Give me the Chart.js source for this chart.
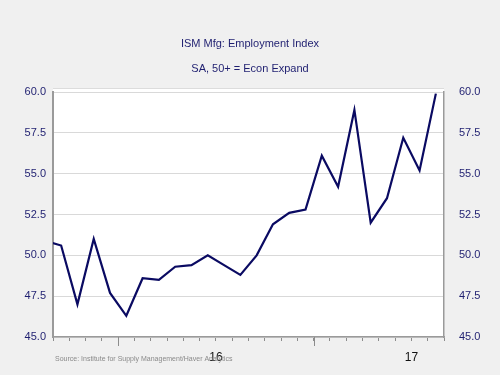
<!DOCTYPE html>
<html>
<head>
<meta charset="utf-8">
<script src="https://cdn.jsdelivr.net/npm/chart.js@4.4.1/dist/chart.umd.min.js"></script>
<style>
  body { margin: 0; background: #f0f0f0; }
  #wrap { width: 500px; height: 375px; }
</style>
</head>
<body>
<div id="wrap"><canvas id="ismChart" width="500" height="375"></canvas></div>
<script>
// Monthly values (Aug 2015 sits just left of the plot and is clipped)
const months = [
    '2015-08', '2015-09', '2015-10', '2015-11', '2015-12',
    '2016-01', '2016-02', '2016-03', '2016-04', '2016-05', '2016-06',
    '2016-07', '2016-08', '2016-09', '2016-10', '2016-11', '2016-12',
    '2017-01', '2017-02', '2017-03', '2017-04', '2017-05', '2017-06',
    '2017-07', '2017-08'
];
const employment = [
    50.9, 50.6, 47.0, 51.0, 47.7,
    46.3, 48.6, 48.5, 49.3, 49.4, 50.0,
    49.4, 48.8, 50.0, 51.9, 52.6, 52.8,
    56.1, 54.2, 58.9, 52.0, 53.5, 57.2,
    55.2, 59.9
];
const axisStart = '2015-09';
const axisEnd = '2017-09';
const yearLabels = ['16', '17'];
const yearLabelMonths = ['2016-07', '2017-07'];
const yearStartMonths = ['2016-01', '2017-01'];

const navy = '#1f1f70';
const fontFamily = '"Liberation Sans", Arial, sans-serif';

function monthIndex(s) {
    const parts = s.split('-');
    return (parseInt(parts[0]) - 2015) * 12 + (parseInt(parts[1]) - 1);
}

const points = months.map((m, i) => ({ x: monthIndex(m) + 0.5, y: employment[i] }));

const plotBackground = {
    id: 'plotBackground',
    beforeDraw(chart) {
        const { ctx, chartArea } = chart;
        ctx.save();
        ctx.fillStyle = '#f0f0f0';
        ctx.fillRect(0, 0, chart.width, chart.height);
        ctx.fillStyle = '#ffffff';
        ctx.fillRect(chartArea.left, chartArea.top - 3, chartArea.right - chartArea.left, chartArea.bottom - chartArea.top + 3);
        ctx.strokeStyle = '#dcdcdc';
        ctx.lineWidth = 1;
        ctx.beginPath();
        ctx.moveTo(chartArea.left, chartArea.top - 3.5);
        ctx.lineTo(chartArea.right, chartArea.top - 3.5);
        ctx.stroke();
        ctx.restore();
    },
    afterDraw(chart) {
        const { ctx, chartArea } = chart;
        const xScale = chart.scales.x;
        ctx.save();
        // longer ticks at year starts
        ctx.strokeStyle = '#8c8c8c';
        ctx.lineWidth = 1;
        yearStartMonths.forEach(m => {
            const px = Math.round(xScale.getPixelForValue(monthIndex(m))) + 0.5;
            ctx.beginPath();
            ctx.moveTo(px, chartArea.bottom);
            ctx.lineTo(px, chartArea.bottom + 9);
            ctx.stroke();
        });
        // source note
        ctx.fillStyle = '#8a8a8a';
        ctx.font = '7px ' + fontFamily;
        ctx.textBaseline = 'middle';
        ctx.fillText('Source: Institute for Supply Management/Haver Analytics', 55, 359);
        ctx.restore();
    }
};

new Chart(document.getElementById('ismChart').getContext('2d'), {
    type: 'line',
    data: {
        datasets: [{
            label: 'ISM Mfg: Employment Index',
            data: points,
            borderColor: '#0a0a62',
            borderWidth: 2.2,
            pointRadius: 0,
            fill: false,
            tension: 0
        }]
    },
    options: {
        responsive: false,
        animation: false,
        layout: { padding: 0 },
        plugins: {
            legend: { display: false },
            tooltip: { enabled: false },
            title: {
                display: true,
                text: 'ISM Mfg: Employment Index',
                color: navy,
                font: { family: fontFamily, size: 11, weight: 'normal' },
                padding: { top: 37.4, bottom: 11.8 }
            },
            subtitle: {
                display: true,
                text: 'SA, 50+ = Econ Expand',
                color: navy,
                font: { family: fontFamily, size: 11, weight: 'normal' },
                padding: { top: 0, bottom: 16.4 }
            }
        },
        scales: {
            x: {
                type: 'linear',
                min: monthIndex(axisStart),
                max: monthIndex(axisEnd),
                afterBuildTicks: scale => {
                    const ticks = [];
                    for (let v = scale.min; v <= scale.max; v++) ticks.push({ value: v });
                    scale.ticks = ticks;
                },
                afterFit: scale => { scale.height = 38; },
                ticks: {
                    autoSkip: false,
                    maxRotation: 0,
                    padding: 9,
                    color: '#111111',
                    font: { family: fontFamily, size: 12 },
                    callback: value => {
                        const k = yearLabelMonths.findIndex(m => monthIndex(m) === value);
                        return k >= 0 ? yearLabels[k] : '';
                    }
                },
                grid: {
                    drawOnChartArea: false,
                    drawTicks: true,
                    tickLength: 4,
                    tickColor: '#8c8c8c'
                },
                border: { display: true, color: '#9a9a9a', width: 1.5 }
            },
            y: {
                position: 'left',
                min: 45,
                max: 60,
                afterFit: scale => { scale.width = 53; },
                ticks: {
                    stepSize: 2.5,
                    padding: 7,
                    color: navy,
                    font: { family: fontFamily, size: 11 },
                    callback: v => v.toFixed(1)
                },
                grid: { color: '#d9d9d9', lineWidth: 1, drawTicks: false },
                border: { display: true, color: '#9a9a9a', width: 2 }
            },
            y2: {
                position: 'right',
                min: 45,
                max: 60,
                afterFit: scale => { scale.width = 56; },
                ticks: {
                    stepSize: 2.5,
                    padding: 7,
                    color: navy,
                    font: { family: fontFamily, size: 11 },
                    callback: v => v.toFixed(1)
                },
                grid: { display: false },
                border: { display: true, color: '#9a9a9a', width: 1.5 }
            }
        }
    },
    plugins: [plotBackground]
});
</script>
</body>
</html>
